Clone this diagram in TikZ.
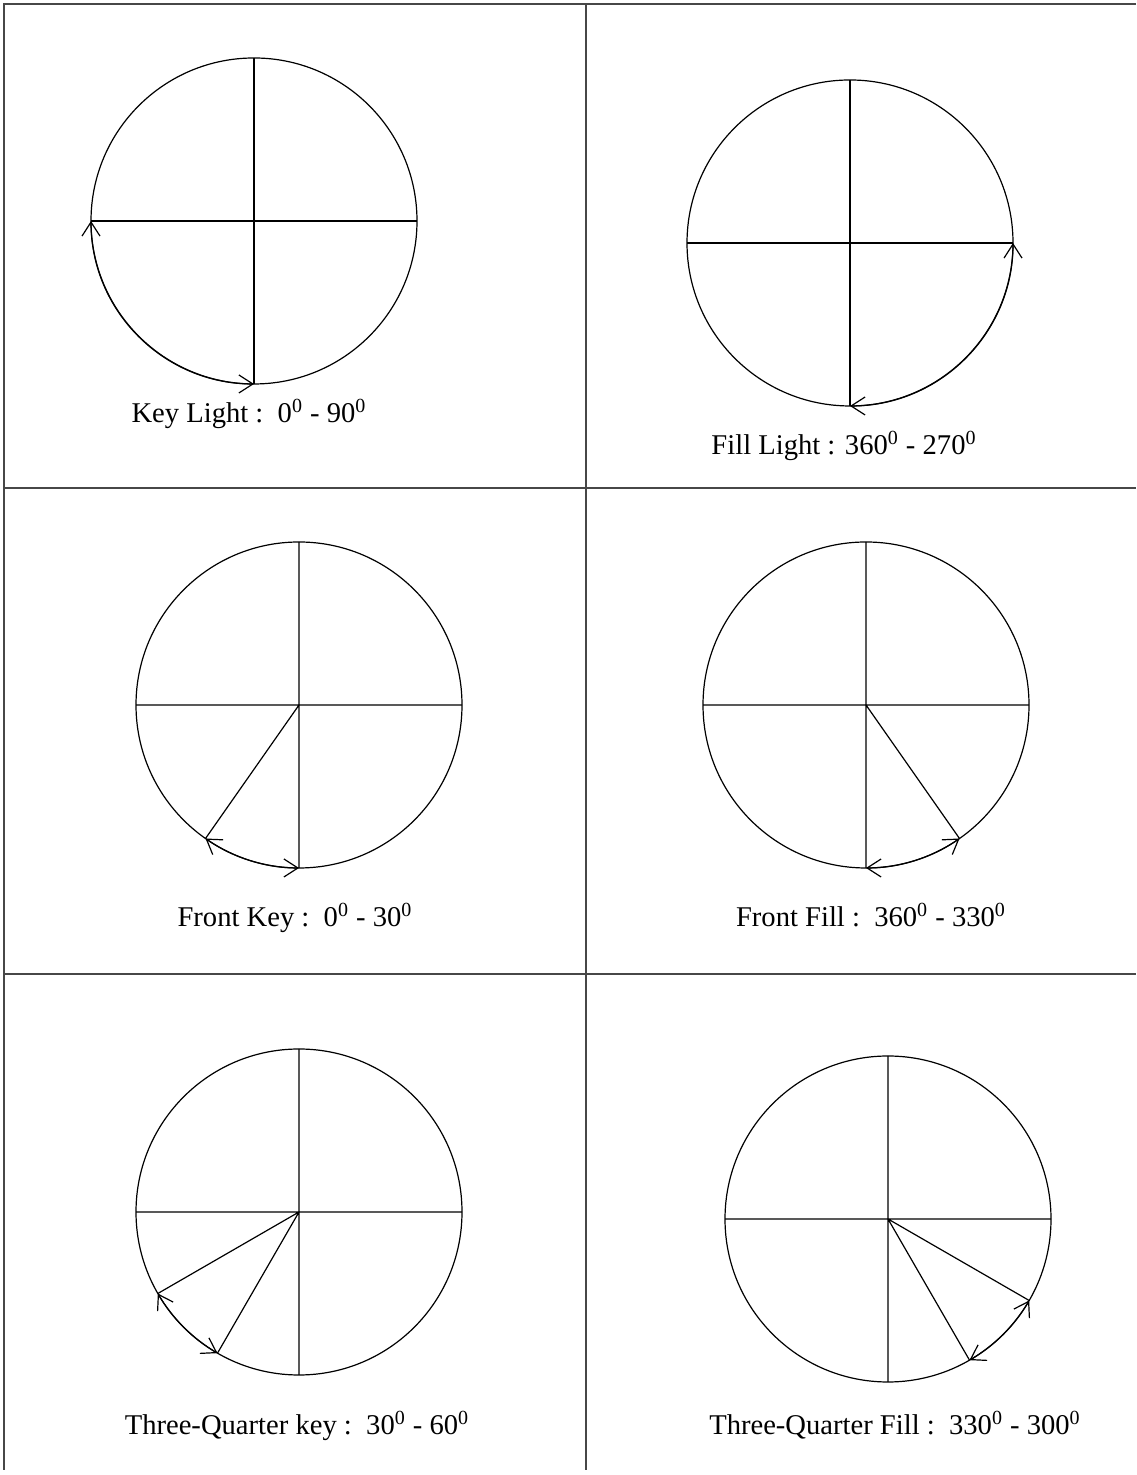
\documentclass[tikz,border=0pt]{standalone}
\usepackage{fontspec}
\setmainfont{Liberation Serif}
\usetikzlibrary{arrows.meta}

\newcommand{\dg}[1]{#1\textsuperscript{0}}

\begin{document}
\begin{tikzpicture}[
  x=0.5pt, y=0.5pt,
  font=\fontsize{14.3}{17}\selectfont,
  >={Straight Barb[length=7pt,width=9pt]},
  rule/.style={draw=black!72, line width=1pt},
  dial/.style={draw, circle, line width=0.6pt, minimum size=163pt, inner sep=0pt, outer sep=0pt},
  ray/.style={line width=0.6pt},
  sweep/.style={line width=0.6pt, <->},
  caption/.style={anchor=base, inner sep=0pt},
]
\useasboundingbox (0,0) rectangle (1136,1475);

% table rules
\draw[rule] (1136,1471) -- (4,1471) -- (4,5);
\draw[rule] (586,1471) -- (586,5);
\draw[rule] (4,987) -- (1136,987);
\draw[rule] (4,501) -- (1136,501);

% key light
\node[dial] (kl) at (254,1254) {};
\draw[ray] (kl.north) -- (kl.south) (kl.west) -- (kl.east);
\draw[sweep] (kl.west) arc[start angle=180, end angle=270, radius=163];
\node[caption] (klt) at (249,1052) {Key Light :\ \ \dg{0} - \dg{90}};

% fill light
\node[dial] (fl) at (850,1232) {};
\draw[ray] (fl.north) -- (fl.south) (fl.west) -- (fl.east);
\draw[sweep] (fl.south) arc[start angle=270, end angle=360, radius=163];
\node[caption] (flt) at (844,1020) {Fill Light : \dg{360} - \dg{270}};

% front key
\node[dial] (fk) at (299,770) {};
\draw[ray] (fk.north) -- (fk.south) (fk.west) -- (fk.east) (fk.center) -- (fk.235);
\draw[sweep] (fk.235) arc[start angle=235, end angle=270, radius=163];
\node[caption] (fkt) at (295,548) {Front Key :\ \ \dg{0} - \dg{30}};

% front fill
\node[dial] (ff) at (866,770) {};
\draw[ray] (ff.north) -- (ff.south) (ff.west) -- (ff.east) (ff.center) -- (ff.305);
\draw[sweep] (ff.south) arc[start angle=270, end angle=305, radius=163];
\node[caption] (fft) at (871,548) {Front Fill :\ \ \dg{360} - \dg{330}};

% three-quarter key
\node[dial] (tk) at (299,263) {};
\draw[ray] (tk.north) -- (tk.south) (tk.west) -- (tk.east)
  (tk.center) -- (tk.210) (tk.center) -- (tk.240);
\draw[sweep] (tk.210) arc[start angle=210, end angle=240, radius=163];
\node[caption] (tkt) at (297,40) {Three-Quarter key :\ \ \dg{30} - \dg{60}};

% three-quarter fill
\node[dial] (tf) at (888,256) {};
\draw[ray] (tf.north) -- (tf.south) (tf.west) -- (tf.east)
  (tf.center) -- (tf.300) (tf.center) -- (tf.330);
\draw[sweep] (tf.300) arc[start angle=300, end angle=330, radius=163];
\node[caption] (tft) at (895,40) {Three-Quarter Fill :\ \ \dg{330} - \dg{300}};
\end{tikzpicture}
\end{document}
